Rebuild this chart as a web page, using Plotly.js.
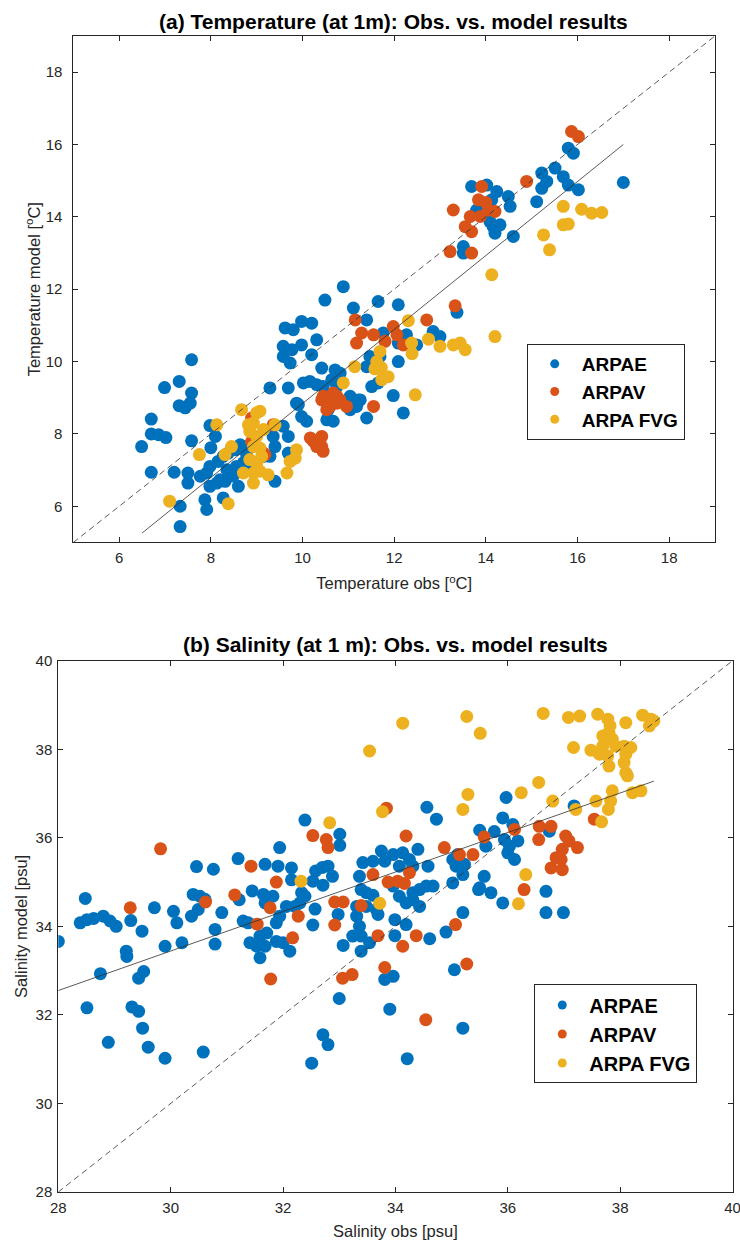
<!DOCTYPE html>
<html><head><meta charset="utf-8">
<script src="https://cdn.plot.ly/plotly-3.0.1.min.js"></script>
<style>html,body{margin:0;padding:0;background:#fff}#chart{width:740px;height:1241px}</style>
</head><body><div id="chart"></div>
<script>
// ---------- (a) Temperature at 1 m ----------
const tempObsARPAE = [6.49,6.70,6.70,6.86,7.02,6.70,6.99,7.31,7.58,7.58, 7.31,7.44,7.55,7.58,7.20,7.50,7.50,7.33,7.33,7.98, 8.10,8.00,7.77,7.91,7.98,8.16,8.27,8.38,8.53,8.64, 7.98,8.13,8.31,8.42,7.87,7.91,8.27,8.60,8.56,8.71, 8.78,8.20,8.35,8.49,8.71,8.93,9.15,9.29,9.40,9.36, 9.40,9.29,9.69,9.58,9.69,9.69,9.91,9.98,10.09,10.53, 10.02,10.16,10.31,10.45,10.64,10.75,9.58,9.77,9.98,10.31, 10.20,9.58,9.73,9.62,9.80,9.98,10.20,10.42,10.71,10.82, 10.49,10.89,11.11,11.40,11.65,12.09,11.04,11.18,11.26,11.40, 11.51,11.65,11.47,11.69,11.40,12.09,11.98,12.20,12.27,12.09, 12.85,13.00,11.76,12.49,13.37,11.04,11.22,10.56,10.67,9.87, 13.69,14.02,14.24,14.49,14.53,14.13,13.80,14.09,14.31,14.20, 14.60,13.51,13.51,14.16,15.11,15.22,15.33,15.22,15.51,15.69, 15.80,16.02,15.80,15.91,17.00];
const tempModARPAE = [7.65,8.41,8.00,7.98,7.90,6.94,9.28,9.45,9.13,10.05, 8.78,8.72,8.85,7.81,6.94,6.92,6.64,6.00,5.44,8.23, 7.93,7.62,6.83,6.92,7.10,7.24,7.38,7.47,7.56,7.70, 6.55,6.64,6.69,6.83,6.18,5.91,6.23,6.55,7.10,7.20, 7.43,6.73,7.01,6.84,7.65,7.10,7.38,7.38,7.65,7.93, 6.69,9.27,9.27,8.21,7.93,7.47,8.81,8.48,8.35,8.39, 9.41,9.45,9.36,9.31,9.50,9.31,10.42,10.33,10.46,10.60, 10.19,10.14,9.96,10.93,10.88,11.11,11.06,9.82,9.77,9.68, 11.70,12.07,11.48,11.15,11.66,11.57,8.67,8.76,8.94,8.44, 9.31,9.41,10.14,10.14,9.86,10.00,9.06,8.58,10.74,10.51, 10.83,10.69,10.79,10.46,11.36,9.04,8.94,8.67,8.35,8.85, 14.84,14.88,14.70,14.56,14.29,14.47,14.19,13.87,13.78,13.55, 13.46,13.18,13.00,13.73,14.42,14.79,14.98,15.21,15.35,15.11, 14.88,14.75,15.90,15.76,14.95];
const tempObsARPAV = [8.89,8.89,9.15,9.18,9.36,10.17,10.24,10.38,10.42,10.45, 10.31,10.42,10.42,10.49,10.45,10.67,10.64,10.53,10.60,10.75, 10.75,10.82,10.96,11.55,11.15,11.29,11.18,11.55,11.80,11.98, 12.06,12.20,12.71,13.33,13.22,13.69,13.55,13.69,13.66,13.88, 13.29,13.84,14.00,14.06,14.20,13.91,14.89,15.87,16.02];
const tempModARPAV = [8.44,7.79,7.47,7.43,8.25,7.89,7.79,7.84,7.65,7.52, 7.65,7.93,8.94,8.99,9.04,9.13,8.94,8.67,8.76,8.85, 9.04,8.94,8.76,8.76,11.15,10.79,10.51,10.74,10.56,10.97, 10.74,10.46,11.15,11.54,13.04,13.00,13.73,13.59,14.01,14.01, 14.19,14.47,14.40,14.19,14.15,14.84,14.98,16.36,16.22];
const tempObsFVG = [7.10,7.75,8.13,8.38,8.31,8.45,8.67,8.93,9.00,9.07, 8.85,8.82,9.00,9.15,8.93,9.07,8.85,9.00,9.11,8.71, 8.93,8.93,9.07,9.25,9.40,9.87,9.73,9.66,9.84,10.89, 11.14,11.58,11.62,11.72,11.69,11.73,11.87,12.46,12.31,12.38, 12.39,12.75,13.00,13.29,13.44,13.55,14.13,14.20,15.26,15.39, 15.69,15.80,15.69,16.09,16.31,16.53];
const tempModFVG = [6.14,7.43,8.25,6.07,7.43,7.65,8.67,8.30,8.58,8.63, 8.07,8.25,7.93,8.12,7.65,7.61,7.29,7.19,7.38,6.92, 6.92,6.64,6.97,6.87,8.25,7.56,7.24,6.92,7.33,9.41, 9.86,9.80,10.00,9.83,10.28,9.50,9.58,9.08,11.13,10.51, 10.22,10.62,10.42,10.46,10.51,10.33,12.40,10.69,13.50,13.09, 13.78,13.80,14.29,14.21,14.10,14.12];
const tempFitObs = [6.5, 17.0];
const tempFitMod = [5.26, 16.0];
const tempRange = [5, 19];
const tempTicks = [6, 8, 10, 12, 14, 16, 18];

// ---------- (b) Salinity at 1 m ----------
const salObsARPAE = [28.00,28.48,28.39,28.51,28.63,28.80,28.92,29.03,29.29,29.49, 29.21,29.22,28.75,29.52,29.43,28.51,29.31,29.43,29.50,28.89, 29.60,29.90,30.58,29.71,30.05,30.11,29.90,30.20,
  30.46,30.76,30.40,30.52,30.61,30.37,30.49,30.91,30.79,30.79, 31.20,31.22,31.45,31.29,31.38,31.41,31.59,31.68,31.53,31.71, 31.59,31.88,32.00,32.12,31.59,31.68,31.91,31.94,31.65,31.82, 31.68,31.88,31.94,32.06,32.21,32.30,32.33,32.39,32.15,32.15, 32.39,32.58,32.70,32.80,32.71,32.88,32.53,33.01,33.01,32.57, 32.98,32.53,
  33.42,33.75,33.60,33.81,33.96,34.13,34.25,34.40,34.07,34.31, 34.58,33.96,34.07,34.19,34.31,34.43,34.55,34.67,34.43,34.31, 33.39,33.48,33.31,33.48,33.66,33.69,33.31,33.36,33.39,33.24, 33.99,33.99,34.19,34.61,34.90,35.20,35.02,35.48,33.39,33.54, 33.07,33.81,33.96,35.05,33.00,33.90,32.71,32.80,32.51,35.20, 34.21,33.36,33.60,34.56,34.73,
  35.02,35.08,35.23,35.20,35.11,35.50,35.76,35.91,36.09,35.97, 35.61,35.94,36.03,36.18,36.00,36.12,35.58,35.50,35.70,35.91, 36.74,37.18,36.68,36.68,36.99];
const salModARPAE = [33.66,34.63,34.08,34.15,34.18,34.23,34.12,34.00,34.13,33.89, 33.44,33.32,32.93,32.98,32.83,32.16,32.18,32.08,31.70,31.38, 31.27,31.02,31.16,34.42,34.34,34.08,33.55,33.63,
  35.35,35.29,34.72,34.68,34.61,34.23,34.38,34.31,33.93,33.60, 35.53,34.60,34.80,34.12,34.08,33.63,33.63,33.55,33.55,33.85, 33.78,33.66,33.63,33.44,33.29,35.40,35.36,35.78,34.72,34.68, 34.53,34.08,34.23,34.45,34.45,34.53,34.76,34.68,35.32,35.05, 36.40,35.25,35.33,35.36,34.93,35.13,35.02,36.08,35.83,34.39, 34.27,34.03,
  35.44,35.70,35.47,35.47,35.62,35.66,35.51,35.74,35.36,35.36, 35.36,34.91,34.68,34.53,34.76,34.83,34.91,34.91,34.45,34.60, 34.83,34.76,34.45,34.45,34.38,34.27,34.23,34.00,33.78,33.78, 34.15,33.79,34.04,33.72,33.87,34.31,34.98,34.83,33.44,33.63, 33.57,32.80,32.87,33.02,32.37,32.13,31.55,31.33,30.91,31.70, 31.01,35.13,34.70,36.69,36.42,
  35.51,35.36,35.40,35.17,35.62,36.17,36.14,36.45,36.30,36.91, 35.81,35.96,35.81,35.93,35.66,35.51,35.13,34.87,34.76,34.53, 36.15,36.72,34.79,34.31,34.31];
const salObsARPAV = [29.28,29.82,30.62,31.14,31.43,31.54,31.77,31.88,31.78,32.17, 32.27,32.53,32.77,32.80,32.92,33.07,32.92,33.39,33.06,33.23, 33.60,33.87,34.04,34.16,34.25,33.69,34.13,34.37,33.81,33.84, 34.19,34.87,35.14,35.38,35.07,35.27,34.54,35.58,36.12,36.56, 36.77,36.55,37.03,37.09,37.24,36.97,36.86,36.95,36.77,36.97, 36.29,37.54];
const salModARPAV = [34.42,35.75,34.55,34.71,35.36,34.05,34.42,35.00,32.81,33.74, 34.23,36.05,35.96,35.78,34.55,34.55,34.03,34.47,32.83,32.91, 35.17,35.00,35.02,34.97,35.21,33.79,33.55,33.79,33.07,36.67, 36.04,35.78,35.62,35.62,34.04,33.15,31.89,36.02,36.19,36.26, 36.26,35.96,36.04,35.93,35.78,35.74,35.55,35.51,35.32,35.28, 34.83,36.42];
const salObsFVG = [32.32,32.83,33.54,33.72,33.77,34.13,35.20,35.29,35.27,35.51, 36.19,36.32,36.24,36.55,36.80,36.63,37.08,37.28,37.60,37.78, 37.82,38.10,38.40,38.55,38.60,38.52,37.69,37.80,37.86,37.69, 37.92,37.17,37.48,37.63,37.78,38.07,38.19,38.10,37.80,38.07, 38.10,38.13,37.21,37.57,37.86,37.83,38.22,38.37,37.79,37.67];
const salModFVG = [35.02,36.34,37.96,34.52,36.59,38.59,36.64,36.98,38.74,38.36, 34.51,35.17,37.02,37.25,36.83,38.81,38.72,38.75,38.79,38.68, 38.53,38.60,38.77,38.68,38.64,38.53,38.30,38.38,38.23,38.07, 38.07,38.04,37.98,37.89,37.85,38.07,38.04,37.89,37.62,37.70, 37.47,37.40,36.64,36.83,37.06,36.83,37.02,37.06,36.64,36.36];
const salFitObs = [28.0, 38.6];
const salFitMod = [32.55, 37.28];
const salRange = [28, 40];
const salTicks = [28, 30, 32, 34, 36, 38, 40];

const seriesNames = ['ARPAE', 'ARPAV', 'ARPA FVG'];
const seriesColors = ['#0072BD', '#D95319', '#EDB120'];

const FONT = 'Liberation Sans, Arial, Helvetica, sans-serif';
const AX = '#262626';

function pts(x, y, color, xa, ya) {
  return {type:'scatter', mode:'markers', x:x, y:y, xaxis:xa, yaxis:ya,
    marker:{size:13, color:color, line:{width:0}}, showlegend:false, hoverinfo:'skip'};
}
function line(x, y, xa, ya, dash) {
  return {type:'scatter', mode:'lines', x:x, y:y, xaxis:xa, yaxis:ya,
    line:{color:'#303030', width:0.8, dash:dash}, showlegend:false, hoverinfo:'skip'};
}
function legItem(i, xa, ya, leg) {
  return {type:'scatter', mode:'markers', x:[null], y:[null], xaxis:xa, yaxis:ya,
    name:seriesNames[i], legend:leg, marker:{size:9, color:seriesColors[i]}, showlegend:true};
}

const data = [
  pts(tempObsARPAE, tempModARPAE, seriesColors[0], 'x', 'y'),
  pts(tempObsARPAV, tempModARPAV, seriesColors[1], 'x', 'y'),
  pts(tempObsFVG, tempModFVG, seriesColors[2], 'x', 'y'),
  line(tempRange, tempRange, 'x', 'y', '6px,4px'),
  line(tempFitObs, tempFitMod, 'x', 'y', 'solid'),
  pts(salObsARPAE, salModARPAE, seriesColors[0], 'x2', 'y2'),
  pts(salObsARPAV, salModARPAV, seriesColors[1], 'x2', 'y2'),
  pts(salObsFVG, salModFVG, seriesColors[2], 'x2', 'y2'),
  line(salRange, salRange, 'x2', 'y2', '6px,4px'),
  line(salFitObs, salFitMod, 'x2', 'y2', 'solid'),
  legItem(0,'x','y','legend'), legItem(1,'x','y','legend'), legItem(2,'x','y','legend'),
  legItem(0,'x2','y2','legend2'), legItem(1,'x2','y2','legend2'), legItem(2,'x2','y2','legend2')
];

function axis(range, ticks, domain, anchor, title, standoff, lblStand) {
  return {range:range, tickvals:ticks, domain:domain, anchor:anchor,
    ticks:'inside', ticklen:5, tickwidth:1, tickcolor:AX,
    showline:true, linecolor:AX, linewidth:1, mirror:'ticks',
    showgrid:false, zeroline:false, fixedrange:true,
    ticklabelstandoff:lblStand, ticklabeloverflow:'allow',
    tickfont:{family:FONT, size:15, color:AX},
    title:{text:title, standoff:standoff, font:{family:FONT, size:16.5, color:AX}}};
}

const legendBase = {xanchor:'left', yanchor:'top', bgcolor:'#ffffff', bordercolor:AX, borderwidth:1,
  itemwidth:44, tracegroupgap:0};

const layout = {
  width:740, height:1241, margin:{l:0, r:0, t:0, b:0},
  paper_bgcolor:'#ffffff', plot_bgcolor:'#ffffff', showlegend:true,
  font:{family:FONT, color:AX},
  xaxis: axis(tempRange, tempTicks, [0.0991, 0.9662], 'y', 'Temperature obs [<sup>o</sup>C]', 12, 2),
  yaxis: axis(tempRange, tempTicks, [0.5629, 0.9710], 'x', 'Temperature model [<sup>o</sup>C]', 0, 7),
  xaxis2: axis(salRange, salTicks, [0.0788, 0.9899], 'y2', 'Salinity obs [psu]', 10, 2),
  yaxis2: axis(salRange, salTicks, [0.0395, 0.4676], 'x2', 'Salinity model [psu]', 3, 2),
  legend: Object.assign({}, legendBase, {x:0.7118, y:0.7228,
    font:{family:FONT, size:19, color:'#000', weight:'bold'}}),
  legend2: Object.assign({}, legendBase, {x:0.722, y:0.2067,
    font:{family:FONT, size:20, color:'#000', weight:'bold'}}),
  annotations: [
    {text:'<b>(a) Temperature (at 1m): Obs. vs. model results</b>', xref:'paper', yref:'paper',
     x:0.5324, y:0.9823, xanchor:'center', yanchor:'middle', showarrow:false,
     font:{family:FONT, size:21, color:'#000'}},
    {text:'<b>(b) Salinity (at 1 m): Obs. vs. model results</b>', xref:'paper', yref:'paper',
     x:0.5345, y:0.4803, xanchor:'center', yanchor:'middle', showarrow:false,
     font:{family:FONT, size:21, color:'#000'}}
  ]
};

Plotly.newPlot('chart', data, layout, {staticPlot:true, displayModeBar:false});
</script>
</body></html>
